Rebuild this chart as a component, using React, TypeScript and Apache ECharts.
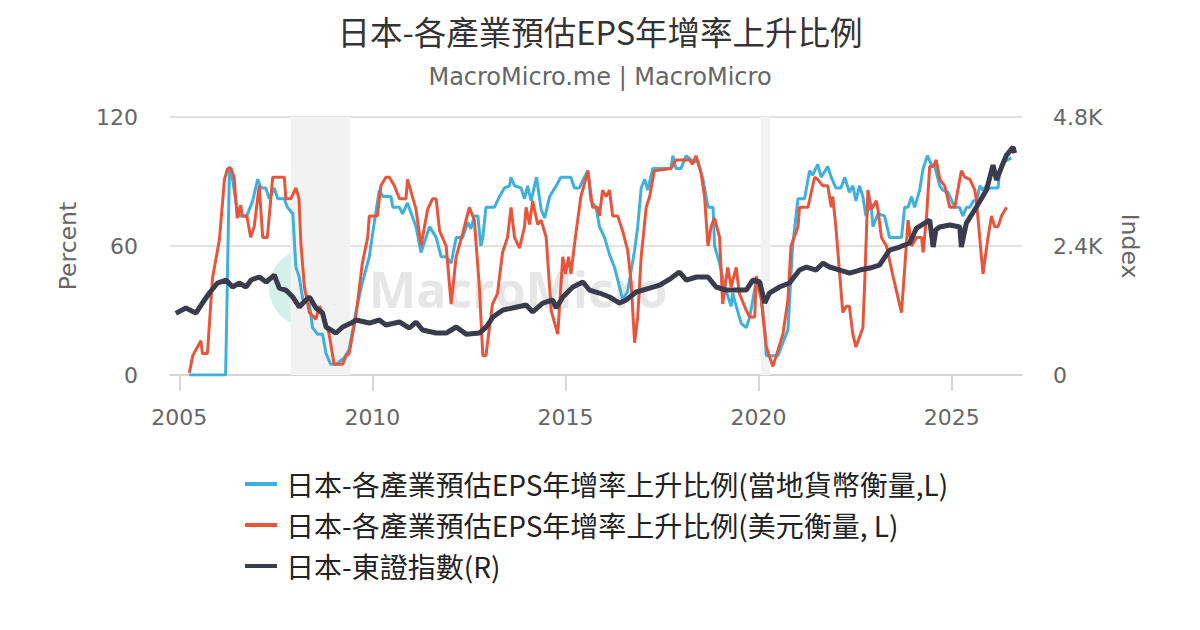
import React, { useEffect, useRef } from "react";
import * as echarts from "echarts";

const TITLE = "日本-各產業預估EPS年增率上升比例";
const SUBTITLE = "MacroMicro.me | MacroMicro";
const NAME_LOCAL = "日本-各產業預估EPS年增率上升比例(當地貨幣衡量,L)";
const NAME_USD = "日本-各產業預估EPS年增率上升比例(美元衡量, L)";
const NAME_INDEX = "日本-東證指數(R)";

const xTicks = [2005, 2010, 2015, 2020, 2025];
const leftTicks = [0, 60, 120];
const rightTicks = [0, 2400, 4800];

const shadedRanges = [
  [2007.88, 2009.43],
  [2020.05, 2020.3],
];

// [year, percent]
const localSeries = [
  [2005.26, 0], [2006.2, 0], [2006.3, 97], [2006.38, 91], [2006.47, 80], [2006.55, 74], [2006.75, 74],
  [2006.9, 81], [2007.03, 91], [2007.12, 87], [2007.24, 87], [2007.33, 82], [2007.46, 87], [2007.55, 82],
  [2007.72, 82], [2007.8, 78], [2007.94, 75], [2008.02, 50], [2008.1, 46], [2008.2, 35], [2008.37, 33],
  [2008.45, 22], [2008.58, 19], [2008.71, 19], [2008.8, 10], [2008.92, 5], [2009.06, 5], [2009.27, 8],
  [2009.4, 12], [2009.57, 29], [2009.74, 43], [2009.92, 55], [2010.05, 71], [2010.18, 86], [2010.27, 83],
  [2010.48, 83], [2010.53, 78], [2010.7, 78], [2010.78, 75], [2010.91, 80], [2011.13, 69], [2011.26, 57],
  [2011.39, 64], [2011.48, 69], [2011.65, 64], [2011.78, 55], [2011.91, 55], [2012.04, 52], [2012.17, 64],
  [2012.34, 64], [2012.47, 71], [2012.55, 68], [2012.64, 74], [2012.73, 74], [2012.81, 60], [2012.86, 64],
  [2012.94, 78], [2013.16, 78], [2013.29, 83], [2013.42, 87], [2013.55, 88], [2013.59, 92], [2013.68, 88],
  [2013.85, 87], [2013.94, 82], [2014.02, 88], [2014.11, 81], [2014.25, 92], [2014.37, 77], [2014.46, 73],
  [2014.59, 83], [2014.76, 88], [2014.88, 92], [2015.14, 92], [2015.23, 87], [2015.36, 87], [2015.49, 92],
  [2015.58, 95], [2015.66, 81], [2015.79, 78], [2015.88, 69], [2016.01, 64], [2016.14, 56], [2016.27, 50],
  [2016.4, 41], [2016.48, 35], [2016.61, 39], [2016.79, 58], [2016.87, 69], [2016.96, 87], [2017.05, 91],
  [2017.13, 86], [2017.26, 96], [2017.73, 96], [2017.78, 102], [2017.86, 96], [2017.99, 96], [2018.12, 102],
  [2018.25, 100], [2018.43, 99], [2018.56, 91], [2018.69, 78], [2018.82, 78], [2018.86, 60], [2018.99, 52],
  [2019.12, 41], [2019.29, 32], [2019.33, 38], [2019.42, 32], [2019.55, 24], [2019.68, 22], [2019.77, 27],
  [2019.94, 44], [2020.07, 36], [2020.17, 19], [2020.2, 9], [2020.5, 9], [2020.63, 15], [2020.76, 21],
  [2020.88, 60], [2020.97, 74], [2021.02, 82], [2021.19, 82], [2021.32, 95], [2021.4, 93], [2021.53, 98],
  [2021.62, 92], [2021.79, 97], [2021.88, 92], [2022.0, 87], [2022.13, 87], [2022.23, 92], [2022.35, 85],
  [2022.44, 88], [2022.52, 81], [2022.61, 88], [2022.7, 83], [2022.78, 74], [2022.91, 80], [2022.96, 69],
  [2023.09, 75], [2023.26, 74], [2023.39, 64], [2023.7, 64], [2023.78, 78], [2023.87, 78], [2023.96, 83],
  [2024.04, 78], [2024.17, 86], [2024.26, 96], [2024.37, 102], [2024.47, 98], [2024.56, 97], [2024.69, 88],
  [2024.77, 86], [2024.9, 85], [2025.08, 78], [2025.2, 78], [2025.29, 74], [2025.38, 78], [2025.47, 78],
  [2025.56, 81], [2025.64, 81], [2025.73, 88], [2025.81, 86], [2025.9, 88], [2025.98, 87], [2026.07, 87],
  [2026.2, 87], [2026.24, 95], [2026.33, 99], [2026.45, 100], [2026.54, 101],
];

// [year, percent]
const usdSeries = [
  [2005.26, 1], [2005.35, 9], [2005.56, 16], [2005.6, 10], [2005.73, 10], [2005.86, 45], [2006.04, 63],
  [2006.17, 91], [2006.25, 96], [2006.34, 96], [2006.42, 92], [2006.5, 73], [2006.59, 79], [2006.63, 74],
  [2006.75, 74], [2006.85, 64], [2006.94, 69], [2007.07, 88], [2007.16, 64], [2007.28, 64], [2007.42, 92],
  [2007.72, 92], [2007.76, 82], [2007.89, 82], [2008.02, 87], [2008.1, 82], [2008.15, 61], [2008.24, 41],
  [2008.37, 29], [2008.54, 26], [2008.63, 32], [2008.71, 29], [2008.88, 19], [2009.01, 5], [2009.23, 5],
  [2009.32, 9], [2009.4, 10], [2009.57, 27], [2009.74, 52], [2009.88, 64], [2009.92, 74], [2010.13, 74],
  [2010.22, 88], [2010.35, 92], [2010.44, 92], [2010.57, 88], [2010.7, 82], [2010.87, 82], [2010.91, 91],
  [2011.13, 77], [2011.26, 60], [2011.43, 77], [2011.56, 82], [2011.65, 82], [2011.74, 67], [2011.91, 60],
  [2012.04, 33], [2012.17, 55], [2012.34, 66], [2012.51, 78], [2012.64, 72], [2012.77, 41], [2012.86, 9],
  [2012.94, 9], [2013.11, 33], [2013.24, 38], [2013.37, 57], [2013.5, 64], [2013.59, 78], [2013.68, 64],
  [2013.81, 59], [2013.94, 69], [2013.98, 78], [2014.07, 70], [2014.15, 81], [2014.28, 70], [2014.37, 72],
  [2014.5, 64], [2014.63, 30], [2014.8, 19], [2014.93, 55], [2015.0, 47], [2015.08, 55], [2015.14, 47],
  [2015.27, 66], [2015.4, 83], [2015.58, 95], [2015.7, 78], [2015.83, 78], [2015.88, 74], [2015.96, 86],
  [2016.05, 83], [2016.14, 86], [2016.22, 74], [2016.35, 74], [2016.48, 67], [2016.61, 58], [2016.7, 43],
  [2016.79, 15], [2016.87, 27], [2016.96, 55], [2017.09, 78], [2017.18, 83], [2017.3, 95], [2017.73, 96],
  [2017.86, 100], [2018.21, 100], [2018.29, 98], [2018.38, 102], [2018.51, 94], [2018.6, 83], [2018.69, 60],
  [2018.77, 69], [2018.86, 73], [2018.99, 64], [2019.07, 33], [2019.2, 50], [2019.29, 41], [2019.42, 50],
  [2019.5, 38], [2019.68, 30], [2019.77, 27], [2019.9, 27], [2019.94, 46], [2020.07, 35], [2020.2, 13],
  [2020.37, 4], [2020.63, 19], [2020.76, 35], [2020.84, 60], [2021.02, 69], [2021.06, 78], [2021.28, 78],
  [2021.45, 92], [2021.53, 91], [2021.66, 88], [2021.79, 88], [2021.88, 78], [2021.92, 83], [2022.0, 69],
  [2022.18, 29], [2022.27, 32], [2022.35, 32], [2022.44, 19], [2022.52, 13], [2022.7, 22], [2022.75, 44],
  [2022.83, 86], [2022.92, 77], [2023.05, 81], [2023.09, 77], [2023.18, 64], [2023.31, 60], [2023.48, 46],
  [2023.7, 29], [2023.78, 49], [2023.87, 72], [2023.96, 60], [2024.09, 64], [2024.22, 64], [2024.26, 57],
  [2024.35, 74], [2024.43, 97], [2024.52, 97], [2024.6, 100], [2024.69, 91], [2024.82, 88], [2024.95, 78],
  [2025.08, 78], [2025.25, 95], [2025.34, 92], [2025.47, 91], [2025.6, 86], [2025.64, 81], [2025.73, 63],
  [2025.81, 47], [2025.94, 64], [2026.03, 74], [2026.11, 69], [2026.2, 69], [2026.29, 74], [2026.42, 78],
];

// [year, index level]
const indexSeries = [
  [2004.91, 1147], [2005.17, 1246], [2005.43, 1153], [2005.6, 1339], [2005.78, 1525], [2005.99, 1711],
  [2006.21, 1767], [2006.38, 1637], [2006.55, 1711], [2006.73, 1637], [2006.86, 1767], [2007.07, 1823],
  [2007.25, 1730], [2007.46, 1860], [2007.59, 1618], [2007.76, 1581], [2007.94, 1451], [2008.11, 1265],
  [2008.28, 1395], [2008.37, 1451], [2008.54, 1246], [2008.71, 1153], [2008.8, 893], [2009.06, 781],
  [2009.23, 893], [2009.45, 967], [2009.58, 1023], [2009.92, 967], [2010.18, 1023], [2010.35, 930],
  [2010.7, 986], [2010.96, 874], [2011.13, 986], [2011.3, 837], [2011.65, 781], [2011.91, 781],
  [2012.17, 893], [2012.43, 760], [2012.77, 781], [2012.95, 893], [2013.12, 1079], [2013.38, 1209],
  [2013.63, 1246], [2013.98, 1302], [2014.15, 1172], [2014.41, 1339], [2014.67, 1395], [2014.76, 1246],
  [2014.93, 1451], [2015.19, 1637], [2015.45, 1730], [2015.62, 1581], [2015.88, 1525], [2016.14, 1451],
  [2016.4, 1339], [2016.57, 1395], [2016.83, 1544], [2017.18, 1618], [2017.44, 1674], [2017.74, 1804],
  [2017.95, 1916], [2018.13, 1767], [2018.39, 1823], [2018.69, 1823], [2018.9, 1637], [2019.16, 1581],
  [2019.42, 1581], [2019.68, 1581], [2019.85, 1767], [2020.03, 1730], [2020.16, 1339], [2020.28, 1525],
  [2020.54, 1637], [2020.8, 1711], [2021.06, 1953], [2021.24, 2009], [2021.49, 1953], [2021.67, 2083],
  [2021.84, 2009], [2022.1, 1953], [2022.36, 1897], [2022.62, 1953], [2022.88, 1990], [2023.13, 2046],
  [2023.39, 2325], [2023.65, 2381], [2023.91, 2455], [2024.09, 2734], [2024.43, 2883], [2024.52, 2381],
  [2024.59, 2700], [2024.69, 2753], [2024.95, 2790], [2025.21, 2753], [2025.25, 2381], [2025.38, 2827],
  [2025.64, 3125], [2025.9, 3441], [2026.07, 3906], [2026.16, 3627], [2026.29, 3869], [2026.42, 4092],
  [2026.59, 4241], [2026.63, 4129],
];

const COLOR_LOCAL = "#3fb0de";
const COLOR_USD = "#e8553b";
const COLOR_INDEX = "#3a3b4c";
const AXIS_TEXT = "#666666";
const LATIN = "DejaVu Sans";
const CJK = "Noto Sans CJK TC";

function fmtIndex(v: number): string {
  if (v === 0) return "0";
  return (v / 1000).toFixed(1) + "K";
}

export default function App() {
  const ref = useRef<HTMLDivElement>(null);

  useEffect(() => {
    if (!ref.current) return;
    const chart = echarts.init(ref.current, undefined, { renderer: "svg" });
    const option: any = {
      animation: false,
      backgroundColor: "#ffffff",
      title: {
        text: TITLE,
        subtext: SUBTITLE,
        left: "center",
        top: 5,
        itemGap: 12,
        textStyle: { fontFamily: CJK, fontSize: 32.5, fontWeight: "normal", color: "#333333", lineHeight: 40 },
        subtextStyle: { fontFamily: LATIN, fontSize: 24, color: "#666666", lineHeight: 30 },
      },
      legend: {
        orient: "vertical",
        left: 240,
        top: 464,
        itemWidth: 32,
        itemHeight: 4,
        itemGap: 11,
        icon: "rect",
        textStyle: { fontFamily: CJK, fontSize: 28, color: "#222222", lineHeight: 30, padding: [0, 0, 0, 4] },
        data: [NAME_LOCAL, NAME_USD, NAME_INDEX],
      },
      graphic: [
        {
          type: "group",
          z: 1,
          silent: true,
          children: [
            { type: "circle", shape: { cx: 308, cy: 288, r: 39 }, style: { fill: "#d3f1ea" } },
            {
              type: "polyline",
              shape: { points: [[290, 304], [303, 285], [314, 297], [327, 278]] },
              style: { stroke: "#ffffff", lineWidth: 4, fill: "none" },
            },
            { type: "circle", shape: { cx: 330, cy: 273, r: 5 }, style: { stroke: "#ffffff", lineWidth: 3, fill: "none" } },
            {
              type: "text",
              x: 369,
              y: 289,
              style: {
                text: "MacroMicro",
                fontFamily: "Open Sans",
                fontWeight: "bold",
                fontSize: 50,
                fill: "#e6e6e6",
                verticalAlign: "middle",
              },
            },
          ],
        },
      ],
      grid: { left: 170, right: 178, top: 117, bottom: 255, containLabel: false },
      xAxis: {
        type: "value",
        min: 2004.76,
        max: 2026.82,
        splitLine: { show: false },
        axisLine: { show: true, lineStyle: { color: "#d6d6d6", width: 2 } },
        axisTick: { show: true, customValues: xTicks, length: 16, lineStyle: { color: "#d6d6d6", width: 2 } },
        axisLabel: {
          customValues: xTicks,
          margin: 31,
          fontFamily: LATIN,
          fontSize: 22,
          color: AXIS_TEXT,
          formatter: (v: number) => String(Math.round(v)),
        },
      },
      yAxis: [
        {
          type: "value",
          min: 0,
          max: 120,
          interval: 60,
          position: "left",
          name: "Percent",
          nameLocation: "middle",
          nameGap: 90,
          nameRotate: 90,
          nameTextStyle: { fontFamily: LATIN, fontSize: 23.5, color: AXIS_TEXT },
          axisLine: { show: false },
          axisTick: { show: false },
          splitLine: { show: true, lineStyle: { color: "#e3e3e3", width: 2 } },
          axisLabel: {
            margin: 32,
            fontFamily: LATIN,
            fontSize: 22,
            color: AXIS_TEXT,
            customValues: leftTicks,
          },
        },
        {
          type: "value",
          min: 0,
          max: 4800,
          interval: 2400,
          position: "right",
          name: "Index",
          nameLocation: "middle",
          nameGap: 96,
          nameRotate: -90,
          nameTextStyle: { fontFamily: LATIN, fontSize: 23.5, color: AXIS_TEXT },
          axisLine: { show: false },
          axisTick: { show: false },
          splitLine: { show: false },
          axisLabel: {
            margin: 31,
            fontFamily: LATIN,
            fontSize: 22,
            color: AXIS_TEXT,
            customValues: rightTicks,
            formatter: fmtIndex,
          },
        },
      ],
      series: [
        {
          name: NAME_LOCAL,
          type: "line",
          yAxisIndex: 0,
          data: localSeries,
          showSymbol: false,
          symbol: "none",
          lineStyle: { color: COLOR_LOCAL, width: 3 },
          itemStyle: { color: COLOR_LOCAL },
          z: 3,
          markArea: {
            silent: true,
            itemStyle: { color: "#f2f2f2" },
            data: shadedRanges.map((r) => [{ xAxis: r[0] }, { xAxis: r[1] }]),
          },
        },
        {
          name: NAME_USD,
          type: "line",
          yAxisIndex: 0,
          data: usdSeries,
          showSymbol: false,
          symbol: "none",
          lineStyle: { color: COLOR_USD, width: 3 },
          itemStyle: { color: COLOR_USD },
          z: 4,
        },
        {
          name: NAME_INDEX,
          type: "line",
          yAxisIndex: 1,
          data: indexSeries,
          showSymbol: false,
          symbol: "none",
          lineStyle: { color: COLOR_INDEX, width: 5 },
          itemStyle: { color: COLOR_INDEX },
          z: 5,
        },
      ],
    };
    chart.setOption(option);
    return () => {
      chart.dispose();
    };
  }, []);

  return (
    <div
      ref={ref}
      style={{ position: "fixed", left: 0, top: 0, width: 1200, height: 630, background: "#fff" }}
    />
  );
}
